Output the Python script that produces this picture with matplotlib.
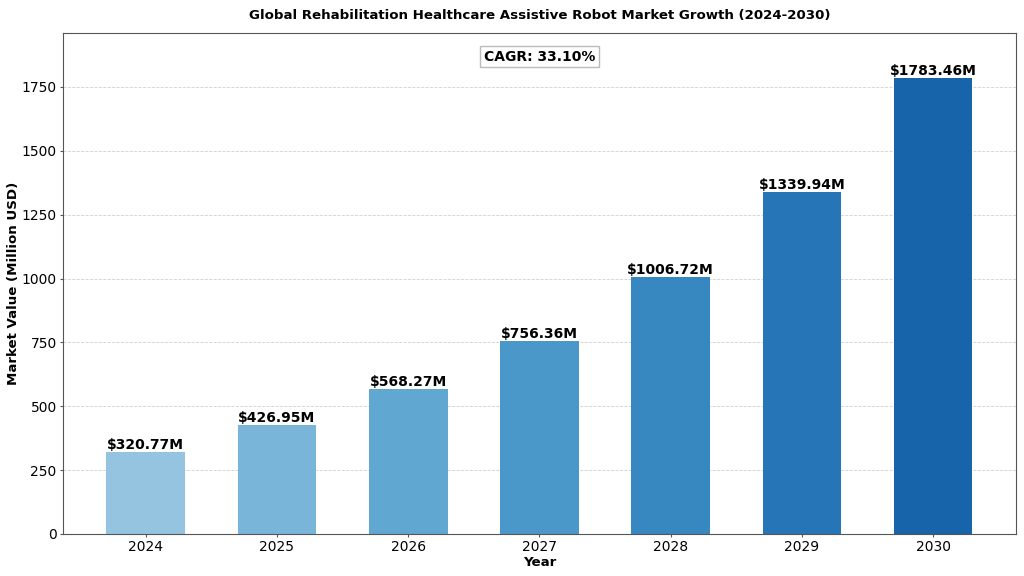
import numpy as np
import matplotlib.pyplot as plt

years = ['2024', '2025', '2026', '2027', '2028', '2029', '2030']
values = [320.77, 426.95, 568.27, 756.36, 1006.72, 1339.94, 1783.46]
cagr_text = 'CAGR: 33.10%'

colors = plt.cm.Blues(np.linspace(0.4, 0.8, len(years)))

fig, ax = plt.subplots(figsize=(10.24, 5.76), dpi=100)
x = np.arange(len(years))
bars = ax.bar(x, values, width=0.6, color=colors)

# value labels on top of each bar
for b, v in zip(bars, values):
    ax.text(b.get_x() + b.get_width() / 2, v, f'${v:.2f}M',
            ha='center', va='bottom', fontsize=10, fontweight='bold')

ax.set_xticks(x)
ax.set_xticklabels(years, fontsize=10)
ax.tick_params(axis='both', labelsize=10, length=2.5, width=0.8,
               color='#555555', pad=2)
for s in ax.spines.values():
    s.set_color('#555555')
    s.set_linewidth(0.8)
ax.set_ylim(0, max(values) * 1.1)
ax.set_xlim(-0.63, len(years) - 0.37)
ax.grid(axis='y', linestyle='--', alpha=0.6, linewidth=0.6)
ax.set_axisbelow(True)

ax.set_title('Global Rehabilitation Healthcare Assistive Robot Market Growth (2024-2030)',
             fontsize=9.6, fontweight='bold', pad=10)
ax.set_xlabel('Year', fontsize=9.6, fontweight='bold', labelpad=1.5)
ax.set_ylabel('Market Value (Million USD)', fontsize=9.6, fontweight='bold', labelpad=1)

ax.text(0.5, 0.952, cagr_text, transform=ax.transAxes, ha='center', va='center',
        fontsize=10, fontweight='bold',
        bbox=dict(facecolor='white', edgecolor='#aaaaaa', alpha=0.8, pad=2.5))

plt.subplots_adjust(left=0.0615, right=0.992, top=0.943, bottom=0.073)
plt.savefig('out.png')
